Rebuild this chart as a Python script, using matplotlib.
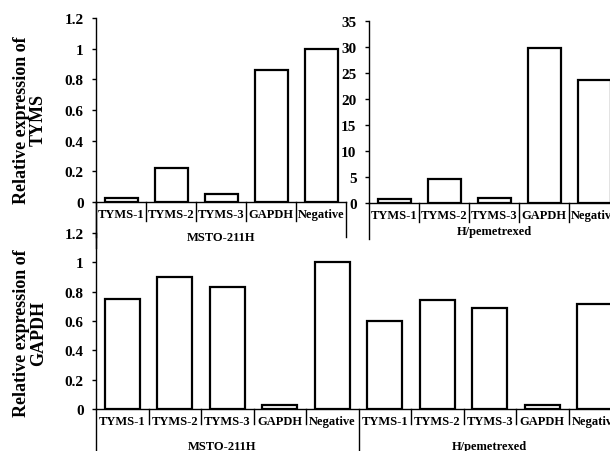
import matplotlib
matplotlib.use("Agg")
import matplotlib.pyplot as plt

plt.rcParams['font.family'] = ['Liberation Serif', 'DejaVu Serif']
plt.rcParams['font.weight'] = 'bold'

# data
categories = ['TYMS-1', 'TYMS-2', 'TYMS-3', 'GAPDH', 'Negative']
groups = ['MSTO-211H', 'H/pemetrexed']
tyms_msto = [0.026, 0.222, 0.052, 0.863, 1.0]
tyms_pem = [0.77, 4.6, 0.96, 29.8, 23.7]
gapdh_msto = [0.748, 0.90, 0.83, 0.027, 1.0]
gapdh_pem = [0.597, 0.744, 0.69, 0.027, 0.714]

W, H = 610, 452
fig = plt.figure(figsize=(W / 100, H / 100), dpi=100)


def px_axes(x0, x1, ytop, ybot):
    ax = fig.add_axes([x0 / W, 1 - ybot / H, (x1 - x0) / W, (ybot - ytop) / H])
    ax.patch.set_visible(False)
    return ax


def style_axis(ax, ticks, ticklabels, ymax):
    ax.set_ylim(0, ymax)
    ax.set_yticks(ticks)
    ax.set_yticklabels(ticklabels, fontsize=11, fontweight='bold')
    ax.tick_params(axis='y', length=3, width=1, pad=6)
    ax.tick_params(axis='x', length=0, pad=4, labelsize=9)
    for s in ['top', 'right']:
        ax.spines[s].set_visible(False)
    ax.spines['left'].set_linewidth(1)
    ax.spines['bottom'].set_linewidth(1)


def draw_bars(ax, values):
    xs = list(range(len(values)))
    ax.bar(xs, values, width=0.66, facecolor='white', edgecolor='black', linewidth=1.6)
    return xs


def separators(ax, n, group_size, short, long):
    tr = ax.get_xaxis_transform()
    for k in range(n + 1):
        x = k - 0.5
        y1 = long if k % group_size == 0 else short
        ax.plot([x, x], [0, y1], transform=tr, color='black', lw=1, clip_on=False)


def ylabel(ax, text, x, y):
    ax.set_ylabel(text, fontsize=13, fontweight='bold', linespacing=1.0)
    ax.yaxis.set_label_coords(x, y)
    ax.yaxis.label.set_ha('center')
    ax.yaxis.label.set_va('center')


# top left: TYMS, MSTO-211H
ax1 = px_axes(96, 346, 19, 203)
draw_bars(ax1, tyms_msto)
ax1.set_xlim(-0.5, 4.5)
ax1.set_xticks(range(5))
ax1.set_xticklabels(categories, fontweight='bold')
style_axis(ax1, [0, 0.2, 0.4, 0.6, 0.8, 1, 1.2],
           ['0', '0.2', '0.4', '0.6', '0.8', '1', '1.2'], 1.2)
separators(ax1, 5, 5, -0.105, -0.19)
ax1.plot([-0.5, -0.5], [0, -0.25], transform=ax1.get_xaxis_transform(),
         color='black', lw=1, clip_on=False)
ax1.text(2, -0.19, groups[0], transform=ax1.get_xaxis_transform(),
         ha='center', va='center', fontsize=9, fontweight='bold')
ylabel(ax1, 'Relative expression of\nTYMS', -0.264, 0.45)

# top right: TYMS, H/pemetrexed
ax2 = px_axes(369, 619, 22, 204)
draw_bars(ax2, tyms_pem)
ax2.set_xlim(-0.5, 4.5)
ax2.set_xticks(range(5))
ax2.set_xticklabels(categories, fontweight='bold')
style_axis(ax2, list(range(0, 40, 5)), [str(v) for v in range(0, 40, 5)], 35)
separators(ax2, 5, 5, -0.105, -0.2)
ax2.text(2, -0.155, groups[1], transform=ax2.get_xaxis_transform(),
         ha='center', va='center', fontsize=9, fontweight='bold')

# bottom: GAPDH, both lines
ax3 = px_axes(96, 621, 234, 410)
bottom_cats = categories + categories
bottom_vals = gapdh_msto + gapdh_pem
draw_bars(ax3, bottom_vals)
ax3.set_xlim(-0.5, 9.5)
ax3.set_xticks(range(10))
ax3.set_xticklabels(bottom_cats, fontweight='bold')
style_axis(ax3, [0, 0.2, 0.4, 0.6, 0.8, 1, 1.2],
           ['0', '0.2', '0.4', '0.6', '0.8', '1', '1.2'], 1.2)
separators(ax3, 10, 5, -0.085, -0.26)
ax3.text(1.9, -0.21, groups[0], transform=ax3.get_xaxis_transform(),
         ha='center', va='center', fontsize=9, fontweight='bold')
ax3.text(7.0, -0.21, groups[1], transform=ax3.get_xaxis_transform(),
         ha='center', va='center', fontsize=9, fontweight='bold')
ylabel(ax3, 'Relative expression of\nGAPDH', -0.126, 0.4375)

fig.savefig('out.png', dpi=100)
